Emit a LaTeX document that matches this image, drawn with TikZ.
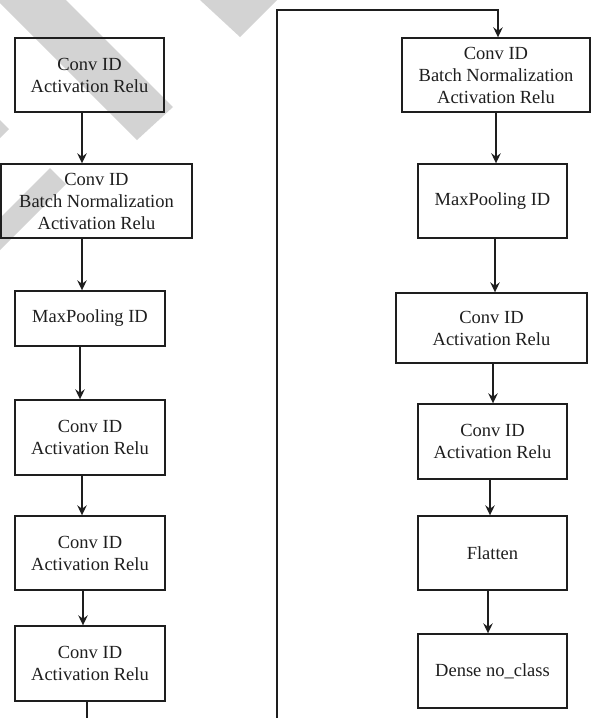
\documentclass[tikz,border=0pt]{standalone}
\usepackage{fontspec}
\setmainfont{Liberation Serif}
\usetikzlibrary{arrows.meta}
\definecolor{wm}{RGB}{211,211,211}
\definecolor{ink}{RGB}{30,30,30}
\begin{document}
\begin{tikzpicture}[x=1pt,y=-1pt,
  box/.style={draw=ink, line width=1.4pt, rectangle, inner sep=0pt, align=center,
    font=\fontsize{18.5}{22}\selectfont, text=ink},
  arr/.style={draw=ink, line width=1.5pt, -{Stealth[length=10pt,width=9.5pt,inset=3.5pt]}},
  ln/.style={draw=ink, line width=1.4pt}]
\useasboundingbox (0,0) rectangle (591,718);
% watermark
\fill[wm] (66,0) -- (173,107) -- (137,140) -- (0,3) -- (0,0) -- cycle;
\fill[wm] (200,0) -- (240,37) -- (277,0) -- cycle;
\fill[wm] (0,120) -- (9,129) -- (0,138) -- cycle;
\fill[wm] (50,168) -- (66,184) -- (0,250) -- (0,218) -- cycle;
% left column
\node[box, minimum width=149pt, minimum height=74pt] (L1) at (89.5,75) {Conv ID\\Activation Relu};
\node[box, minimum width=191pt, minimum height=74pt] (L2) at (96.5,201) {Conv ID\\Batch Normalization\\Activation Relu};
\node[box, minimum width=150pt, minimum height=55pt] (L3) at (90,318.5) {MaxPooling ID};
\node[box, minimum width=150pt, minimum height=75pt] (L4) at (90,437.5) {Conv ID\\Activation Relu};
\node[box, minimum width=150pt, minimum height=74pt] (L5) at (90,553) {Conv ID\\Activation Relu};
\node[box, minimum width=150pt, minimum height=75pt] (L6) at (90,663.5) {Conv ID\\Activation Relu};
% right column
\node[box, minimum width=188pt, minimum height=74pt] (R1) at (496,75) {Conv ID\\Batch Normalization\\Activation Relu};
\node[box, minimum width=149pt, minimum height=74pt] (R2) at (492.5,201) {MaxPooling ID};
\node[box, minimum width=191pt, minimum height=70pt] (R3) at (491.5,328) {Conv ID\\Activation Relu};
\node[box, minimum width=149pt, minimum height=75pt] (R4) at (492.5,441.5) {Conv ID\\Activation Relu};
\node[box, minimum width=149pt, minimum height=74pt] (R5) at (492.5,553) {Flatten};
\node[box, minimum width=149pt, minimum height=74pt] (R6) at (492.5,671) {Dense no\_class};
% arrow x positions
\coordinate (a1) at (82,0);
\coordinate (a2) at (82,0);
\coordinate (a3) at (80,0);
\coordinate (a4) at (82,0);
\coordinate (a5) at (83,0);
\coordinate (a6) at (87,0);
\coordinate (b0) at (498,0);
\coordinate (b1) at (496,0);
\coordinate (b2) at (495,0);
\coordinate (b3) at (493,0);
\coordinate (b4) at (490,0);
\coordinate (b5) at (488,0);
% connectors
\draw[arr] (L1.south -| a1) -- (L2.north -| a1);
\draw[arr] (L2.south -| a2) -- (L3.north -| a2);
\draw[arr] (L3.south -| a3) -- (L4.north -| a3);
\draw[arr] (L4.south -| a4) -- (L5.north -| a4);
\draw[arr] (L5.south -| a5) -- (L6.north -| a5);
\coordinate (down) at (87,740);
\coordinate (top) at (277,10);
\draw[arr] (L6.south -| a6) -- (down) -| (top) -| (R1.north -| b0);
\draw[arr] (R1.south -| b1) -- (R2.north -| b1);
\draw[arr] (R2.south -| b2) -- (R3.north -| b2);
\draw[arr] (R3.south -| b3) -- (R4.north -| b3);
\draw[arr] (R4.south -| b4) -- (R5.north -| b4);
\draw[arr] (R5.south -| b5) -- (R6.north -| b5);
\end{tikzpicture}
\end{document}
